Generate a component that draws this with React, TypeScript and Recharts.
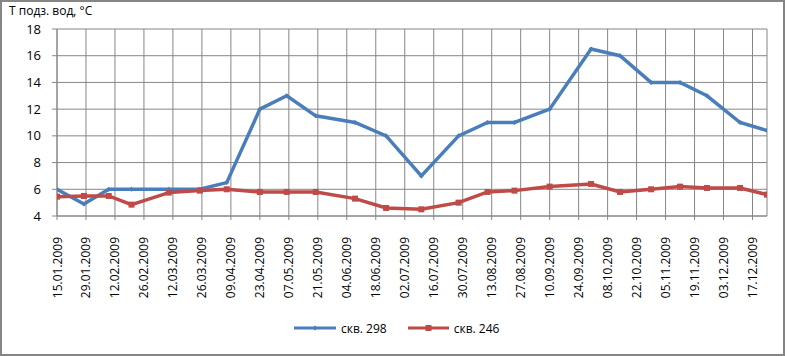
import React from 'react';
import { LineChart, Line, XAxis, YAxis, CartesianGrid, Legend } from 'recharts';

const tickLabels = [
  '15.01.2009', '29.01.2009', '12.02.2009', '26.02.2009', '12.03.2009',
  '26.03.2009', '09.04.2009', '23.04.2009', '07.05.2009', '21.05.2009',
  '04.06.2009', '18.06.2009', '02.07.2009', '16.07.2009', '30.07.2009',
  '13.08.2009', '27.08.2009', '10.09.2009', '24.09.2009', '08.10.2009',
  '22.10.2009', '05.11.2009', '19.11.2009', '03.12.2009', '17.12.2009',
];

const sampleDates = [
  '15.01.2009', '28.01.2009', '09.02.2009', '20.02.2009', '10.03.2009',
  '25.03.2009', '07.04.2009', '23.04.2009', '06.05.2009', '20.05.2009',
  '08.06.2009', '23.06.2009', '10.07.2009', '28.07.2009', '11.08.2009',
  '24.08.2009', '10.09.2009', '30.09.2009', '14.10.2009', '29.10.2009',
  '12.11.2009', '25.11.2009', '11.12.2009', '24.12.2009',
];

const well298 = [
  6.0, 4.9, 6.0, 6.0, 6.0, 6.0, 6.5, 12.0, 13.0, 11.5, 11.0, 10.0,
  7.0, 10.0, 11.0, 11.0, 12.0, 16.5, 16.0, 14.0, 14.0, 13.0, 11.0, 10.4,
];

const well246 = [
  5.45, 5.5, 5.5, 4.85, 5.75, 5.9, 6.0, 5.8, 5.8, 5.8, 5.3, 4.6,
  4.5, 5.0, 5.8, 5.9, 6.2, 6.4, 5.8, 6.0, 6.2, 6.1, 6.1, 5.6,
];

const yTicks = [4, 6, 8, 10, 12, 14, 16, 18];

const BLUE = '#4a7ebb';
const RED = '#be4b48';
const GRID = '#868686';
const FONT = '"Open Sans", "Liberation Sans", sans-serif';

const dayOfYear = (s: string) => {
  const [d, m, y] = s.split('.').map(Number);
  return Math.round((Date.UTC(y, m - 1, d) - Date.UTC(y, 0, 0)) / 86400000);
};

const xTicks = tickLabels.map(dayOfYear);
const labelByDay: { [k: number]: string } = {};
tickLabels.forEach((l) => { labelByDay[dayOfYear(l)] = l; });

const data = sampleDates.map((d, i) => ({
  day: dayOfYear(d),
  s298: well298[i],
  s246: well246[i],
}));

const DateTick = (props: any) => {
  const { x, y, payload } = props;
  return (
    <text
      transform={`translate(${x + 4.5},${y + 15}) rotate(-90)`}
      textAnchor="end"
      fontSize={12}
      fontFamily={FONT}
      fill="#000"
    >
      {labelByDay[payload.value]}
    </text>
  );
};

const Diamond = (props: any) => {
  const { cx, cy } = props;
  if (cx == null || cy == null) return null;
  return <path d={`M${cx},${cy - 2.5}L${cx + 2.5},${cy}L${cx},${cy + 2.5}L${cx - 2.5},${cy}Z`} fill={BLUE} />;
};

const Square = (props: any) => {
  const { cx, cy } = props;
  if (cx == null || cy == null) return null;
  return <rect x={cx - 3} y={cy - 3} width={6} height={6} fill={RED} />;
};

const LegendBox = () => (
  <div style={{ display: 'flex', alignItems: 'center', paddingLeft: 294, fontFamily: FONT, fontSize: 12, height: 30 }}>
    <svg width={42} height={10} style={{ marginRight: 5 }}>
      <line x1={0} y1={5} x2={42} y2={5} stroke={BLUE} strokeWidth={3} />
      <path d="M21,2.5L23.5,5L21,7.5L18.5,5Z" fill={BLUE} />
    </svg>
    <span style={{ marginRight: 21 }}>скв. 298</span>
    <svg width={41} height={10} style={{ marginRight: 5 }}>
      <line x1={0} y1={5} x2={41} y2={5} stroke={RED} strokeWidth={3} />
      <rect x={17.5} y={2} width={6} height={6} fill={RED} />
    </svg>
    <span>скв. 246</span>
  </div>
);

export default function App() {
  return (
    <div style={{ position: 'absolute', left: 0, top: 0, width: 787, height: 356, background: '#fff' }}>
      <div style={{
        position: 'absolute', left: 0, top: 0, width: 785, height: 356,
        border: `2px solid ${GRID}`, boxSizing: 'border-box',
      }} />
      <div style={{ position: 'absolute', left: 9, top: 4, fontFamily: FONT, fontSize: 12, lineHeight: '14px', color: '#000' }}>
        Т подз. вод, °С
      </div>
      <LineChart
        width={787}
        height={356}
        data={data}
        margin={{ top: 29, right: 20, left: 0, bottom: 13 }}
      >
        <CartesianGrid stroke={GRID} strokeWidth={1} />
        <XAxis
          dataKey="day"
          type="number"
          domain={[15, 358]}
          ticks={xTicks}
          interval={0}
          tick={<DateTick />}
          tickSize={4}
          height={97}
          stroke={GRID}
          allowDataOverflow
        />
        <YAxis
          domain={[4, 18]}
          ticks={yTicks}
          width={57}
          tickSize={5}
          tickMargin={11}
          stroke={GRID}
          tick={{ fill: '#000', fontSize: 13, fontFamily: FONT }}
          interval={0}
        />
        <Legend verticalAlign="bottom" height={30} content={<LegendBox />} />
        <Line
          type="linear"
          dataKey="s298"
          name="скв. 298"
          stroke={BLUE}
          strokeWidth={3.5}
          dot={<Diamond />}
          isAnimationActive={false}
        />
        <Line
          type="linear"
          dataKey="s246"
          name="скв. 246"
          stroke={RED}
          strokeWidth={3.5}
          dot={<Square />}
          isAnimationActive={false}
        />
      </LineChart>
    </div>
  );
}
